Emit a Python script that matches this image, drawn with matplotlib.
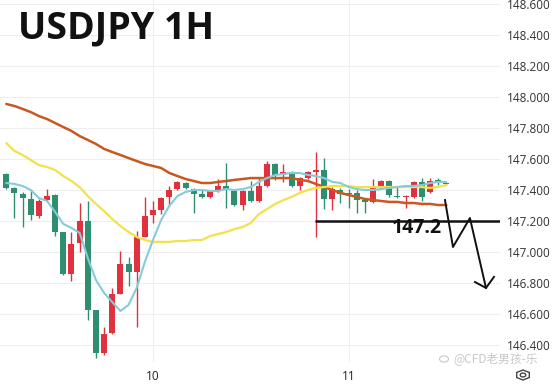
import matplotlib
matplotlib.use("Agg")
import matplotlib.pyplot as plt
from matplotlib.patches import RegularPolygon, Circle

# ---- data ----
opens = [147.503, 147.413, 147.374, 147.342, 147.232, 147.335, 147.368, 147.129, 146.858, 147.058,
         147.200, 146.626, 146.348, 146.477, 146.729, 146.922, 146.871, 147.097, 147.239, 147.271,
         147.355, 147.406, 147.445, 147.406, 147.374, 147.355, 147.394, 147.426, 147.394, 147.303,
         147.394, 147.329, 147.426, 147.568, 147.497, 147.516, 147.426, 147.477, 147.516, 147.529,
         147.342, 147.400, 147.381, 147.381, 147.335, 147.323, 147.419, 147.458, 147.361, 147.355,
         147.355, 147.452, 147.387, 147.465, 147.445]
highs = [147.510, 147.419, 147.387, 147.400, 147.342, 147.406, 147.374, 147.129, 147.129, 147.316,
         147.329, 146.626, 146.516, 146.768, 147.006, 146.968, 147.135, 147.355, 147.329, 147.355,
         147.426, 147.458, 147.452, 147.413, 147.400, 147.400, 147.471, 147.574, 147.400, 147.400,
         147.458, 147.477, 147.587, 147.574, 147.568, 147.523, 147.484, 147.523, 147.645, 147.606,
         147.419, 147.413, 147.406, 147.400, 147.342, 147.471, 147.465, 147.465, 147.419, 147.368,
         147.458, 147.477, 147.477, 147.477, 147.452]
lows = [147.406, 147.219, 147.161, 147.206, 147.219, 147.329, 147.103, 146.852, 146.813, 147.000,
        146.561, 146.316, 146.335, 146.471, 146.729, 146.781, 146.516, 147.097, 147.187, 147.245,
        147.303, 147.400, 147.406, 147.252, 147.348, 147.348, 147.387, 147.284, 147.297, 147.271,
        147.323, 147.323, 147.419, 147.465, 147.452, 147.419, 147.400, 147.471, 147.097, 147.277,
        147.271, 147.316, 147.284, 147.252, 147.252, 147.316, 147.413, 147.355, 147.348, 147.284,
        147.348, 147.329, 147.381, 147.432, 147.432]
closes = [147.413, 147.381, 147.348, 147.239, 147.329, 147.361, 147.129, 146.858, 147.052, 147.200,
          146.626, 146.348, 146.471, 146.729, 146.922, 146.871, 147.097, 147.232, 147.271, 147.348,
          147.400, 147.452, 147.413, 147.374, 147.355, 147.394, 147.426, 147.406, 147.303, 147.394,
          147.329, 147.426, 147.568, 147.497, 147.516, 147.426, 147.477, 147.516, 147.529, 147.342,
          147.406, 147.374, 147.374, 147.335, 147.323, 147.413, 147.458, 147.368, 147.355, 147.361,
          147.452, 147.355, 147.458, 147.445, 147.439]

ma_fast = [147.445, 147.439, 147.426, 147.400, 147.348, 147.329, 147.258, 147.181, 147.155, 147.123,
           146.961, 146.819, 146.736, 146.677, 146.619, 146.658, 146.768, 146.935, 147.077, 147.206,
           147.297, 147.361, 147.387, 147.400, 147.400, 147.394, 147.394, 147.406, 147.400, 147.406,
           147.419, 147.452, 147.477, 147.497, 147.503, 147.510, 147.510, 147.497, 147.490, 147.477,
           147.452, 147.445, 147.419, 147.406, 147.400, 147.400, 147.406, 147.413, 147.419, 147.426,
           147.426, 147.432, 147.445, 147.452, 147.452]
ma_mid = [147.703, 147.652, 147.626, 147.594, 147.561, 147.548, 147.529, 147.490, 147.458, 147.419,
          147.361, 147.310, 147.264, 147.213, 147.168, 147.129, 147.097, 147.077, 147.065, 147.065,
          147.065, 147.071, 147.071, 147.077, 147.077, 147.103, 147.116, 147.129, 147.148, 147.161,
          147.187, 147.245, 147.277, 147.310, 147.335, 147.355, 147.381, 147.400, 147.413, 147.419,
          147.426, 147.426, 147.426, 147.419, 147.419, 147.419, 147.419, 147.419, 147.419, 147.419,
          147.419, 147.419, 147.413, 147.419, 147.432]
ma_slow = [147.955, 147.942, 147.923, 147.903, 147.877, 147.858, 147.832, 147.806, 147.781, 147.748,
           147.723, 147.697, 147.665, 147.645, 147.626, 147.606, 147.587, 147.568, 147.555, 147.542,
           147.510, 147.490, 147.471, 147.458, 147.445, 147.445, 147.452, 147.458, 147.465, 147.471,
           147.477, 147.477, 147.477, 147.477, 147.477, 147.477, 147.465, 147.458, 147.439, 147.419,
           147.400, 147.381, 147.368, 147.355, 147.342, 147.335, 147.329, 147.323, 147.323, 147.316,
           147.316, 147.310, 147.310, 147.303, 147.303]

day_ticks = [18, 42]
day_labels = ["10", "11"]
y_ticks = [146.4, 146.6, 146.8, 147.0, 147.2, 147.4, 147.6, 147.8, 148.0, 148.2, 148.4, 148.6]
level = 147.2
level_start = 37.9
path_x = [53.83, 54.81, 56.89, 58.86]
path_y = [147.335, 147.032, 147.219, 146.768]
head_x = [57.51, 58.86, 59.84]
head_y = [146.806, 146.768, 146.839]

# ---- style ----
UP = "#e0323e"
DOWN = "#2e8f70"
C_FAST = "#86cbd9"
C_MID = "#f2e24a"
C_SLOW = "#c9581f"

fig = plt.figure(figsize=(5.59, 3.87), dpi=100, facecolor="white")
ax = fig.add_axes([0.0, 25 / 387, 500 / 559, 362 / 387])
ax.set_facecolor("white")

n = len(opens)
xs = list(range(n))
cols = [UP if c >= o else DOWN for o, c in zip(opens, closes)]
ax.vlines(xs, lows, highs, colors=cols, linewidth=1.0, zorder=2)
bottoms = [min(o, c) for o, c in zip(opens, closes)]
heights = [max(abs(c - o), 0.008) for o, c in zip(opens, closes)]
ax.bar(xs, heights, bottom=bottoms, width=0.74, color=cols, linewidth=0, zorder=3)

ax.plot(xs, ma_slow, color=C_SLOW, linewidth=1.8, zorder=4, solid_capstyle="round")
ax.plot(xs, ma_mid, color=C_MID, linewidth=1.6, zorder=4, solid_capstyle="round")
ax.plot(xs, ma_fast, color=C_FAST, linewidth=1.5, zorder=5, solid_capstyle="round")

ax.set_xlim(-0.77, 60.58)
ax.set_ylim(146.29, 148.626)

# level line and annotation
ax.hlines(level, level_start, 60.58, color="#111111", linewidth=1.8, zorder=6)
ax.text(53.46, 147.152, "147.2", ha="right", va="center", fontsize=14,
        fontweight="bold", color="#111111", family="Open Sans", zorder=7)
ax.plot(path_x, path_y, color="#111111", linewidth=1.4, zorder=7, clip_on=False)
ax.plot(head_x, head_y, color="#111111", linewidth=1.4, zorder=7, clip_on=False)

# grid & axes
ax.set_yticks(y_ticks)
ax.set_yticklabels([f"{v:.3f}" for v in y_ticks])
ax.set_xticks(day_ticks)
ax.set_xticklabels(day_labels)
ax.yaxis.tick_right()
ax.tick_params(axis="y", length=0, pad=5, labelsize=8.5, labelcolor="#333333")
ax.tick_params(axis="x", length=0, pad=6, labelsize=8.5, labelcolor="#222222")
for lab in ax.get_yticklabels() + ax.get_xticklabels():
    lab.set_family("Open Sans")
ax.grid(True, color="#eeeeee", linewidth=0.8, zorder=0)
ax.set_axisbelow(True)
for s in ax.spines.values():
    s.set_visible(False)

# title
fig.text(18 / 559, 1 - 38 / 387, "USDJPY 1H", fontsize=27, fontweight="bold",
         family="Open Sans", color="#111111", ha="left", va="baseline")

# watermark
fig.text(453 / 559, 1 - 359 / 387, "@CFD老男孩-乐", fontsize=8.5, color="#c8c8c8",
         family=["Noto Sans CJK SC", "DejaVu Sans"], ha="left", va="center")
fig.add_artist(Circle((444 / 559, 1 - 359 / 387), 0.008, transform=fig.transFigure,
                      fill=False, edgecolor="#c8c8c8", linewidth=0.8))
fig.add_artist(RegularPolygon((523 / 559, 1 - 375 / 387), 6, radius=0.013,
                              transform=fig.transFigure, fill=False,
                              edgecolor="#444444", linewidth=1.0))
fig.add_artist(Circle((523 / 559, 1 - 375 / 387), 0.005, transform=fig.transFigure,
                      fill=False, edgecolor="#444444", linewidth=1.0))

fig.savefig("out.png", dpi=100, facecolor="white")
